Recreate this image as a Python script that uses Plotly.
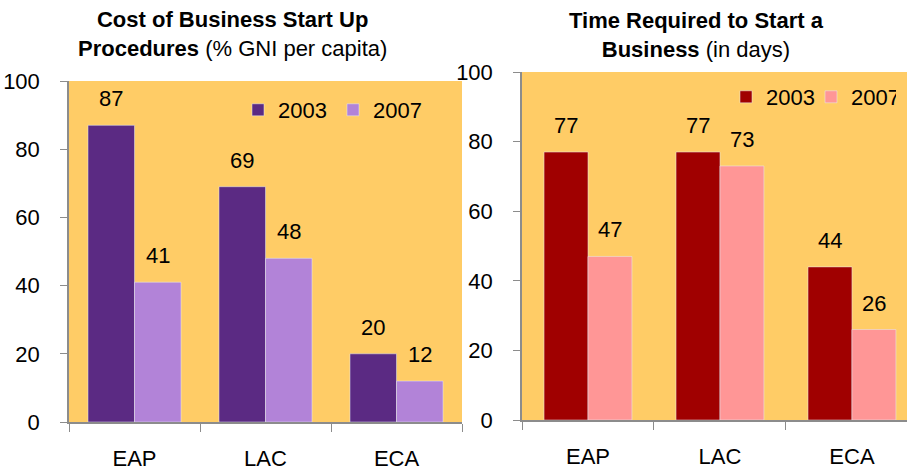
import plotly.graph_objects as go

categories = ["EAP", "LAC", "ECA"]
cost_2003 = [87, 69, 20]
cost_2007 = [41, 48, 12]
time_2003 = [77, 77, 44]
time_2007 = [47, 73, 26]
y_ticks = [0, 20, 40, 60, 80, 100]

W, H = 907, 471
FONT = "Liberation Sans, Arial, sans-serif"
C_2003_L, C_2007_L = "#5B2A83", "#B283D8"
C_2003_R, C_2007_R = "#A00000", "#FF9696"
BG = "#FFCC66"
GRAY = "#8C8C8C"

wl = 0.355  # bar width (category units), left
wr = 0.333  # bar width, right

fig = go.Figure()
fig.add_bar(x=categories, y=cost_2003, name="2003", marker_color=C_2003_L,
            width=wl, offset=-wl, xaxis="x", yaxis="y", legend="legend")
fig.add_bar(x=categories, y=cost_2007, name="2007", marker_color=C_2007_L,
            width=wl, offset=0, xaxis="x", yaxis="y", legend="legend")
fig.add_bar(x=categories, y=time_2003, name="2003", marker_color=C_2003_R,
            width=wr, offset=-wr, xaxis="x2", yaxis="y2", legend="legend2")
fig.add_bar(x=categories, y=time_2007, name="2007", marker_color=C_2007_R,
            width=wr, offset=0, xaxis="x2", yaxis="y2", legend="legend2")

ann = []
def labels(vals, xr, yr, shift):
    for i, v in enumerate(vals):
        ann.append(dict(x=i + shift, y=v, xref=xr, yref=yr, text=str(v),
                        showarrow=False, yanchor="bottom", yshift=12,
                        font=dict(size=22, color="black", family=FONT)))
labels(cost_2003, "x", "y", -wl / 2)
labels(cost_2007, "x", "y", wl / 2)
labels(time_2003, "x2", "y2", -wr / 2)
labels(time_2007, "x2", "y2", wr / 2)

ann.append(dict(x=232 / W, y=1 - 34 / H, xref="paper", yref="paper",
                text="<b>Cost of Business Start Up</b><br><b>Procedures</b> (% GNI per capita)",
                showarrow=False, yanchor="middle", xanchor="center",
                font=dict(size=22, color="black", family=FONT)))
ann.append(dict(x=696 / W, y=1 - 35 / H, xref="paper", yref="paper",
                text="<b>Time Required to Start a</b><br><b>Business</b> (in days)",
                showarrow=False, yanchor="middle", xanchor="center",
                font=dict(size=22, color="black", family=FONT)))

xcommon = dict(type="category", tickson="boundaries", ticks="outside", ticklen=8,
               tickcolor=GRAY, showline=True, linecolor=GRAY, linewidth=1.5,
               showgrid=False, tickfont=dict(size=22, color="black", family=FONT),
               ticklabelstandoff=16, fixedrange=True, automargin=False)
ycommon = dict(range=[0, 100], tickvals=y_ticks, ticks="outside", ticklen=7,
               tickcolor=GRAY, showline=True, linecolor=GRAY, linewidth=1.5,
               showgrid=False, zeroline=False,
               tickfont=dict(size=22, color="black", family=FONT),
               ticklabelstandoff=16, fixedrange=True, automargin=False)

fig.update_layout(
    width=W, height=H, margin=dict(l=0, r=0, t=0, b=0, autoexpand=False),
    paper_bgcolor="white", plot_bgcolor=BG,
    font=dict(family=FONT, color="black"),
    xaxis=dict(xcommon, domain=[69 / W, 462 / W], range=[-0.5, 2.5], anchor="y"),
    yaxis=dict(ycommon, domain=[1 - 422 / H, 1 - 81 / H], anchor="x"),
    xaxis2=dict(xcommon, domain=[522 / W, 1], range=[-0.5, 2.417], anchor="y2"),
    yaxis2=dict(ycommon, domain=[1 - 420 / H, 1 - 72 / H], anchor="x2"),
    legend=dict(orientation="h", x=238 / W, y=1 - 110 / H, xanchor="left", yanchor="middle",
                bgcolor="rgba(0,0,0,0)", font=dict(size=22, family=FONT),
                entrywidth=50, entrywidthmode="pixels", itemwidth=30, traceorder="normal"),
    legend2=dict(orientation="h", x=726 / W, y=1 - 97 / H, xanchor="left", yanchor="middle",
                 bgcolor="rgba(0,0,0,0)", font=dict(size=22, family=FONT),
                 entrywidth=40, entrywidthmode="pixels", itemwidth=30, traceorder="normal"),
    annotations=ann,
    showlegend=True,
)

fig.write_html("out.html")
